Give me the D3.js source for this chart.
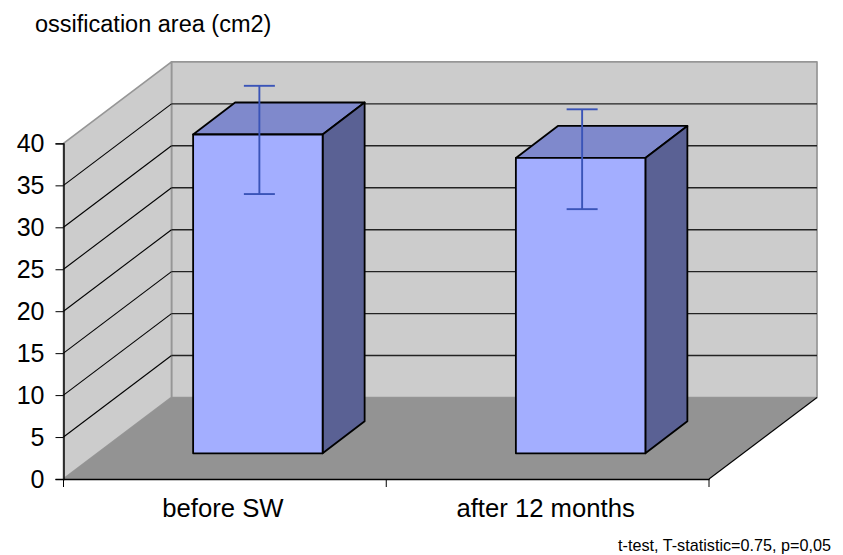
<!DOCTYPE html>
<html>
<head>
<meta charset="utf-8">
<script src="https://cdn.jsdelivr.net/npm/d3@7"></script>
<style>
  body { margin: 0; background: #fff; }
  text { font-family: "Liberation Sans", Arial, sans-serif; fill: #000; }
</style>
</head>
<body>
<div id="chart"></div>
<script>
// values
var categories = ["before SW", "after 12 months"];
var barValues = [38, 35.2];
var errHigh = [43.8, 41.0];
var errLow = [30.9, 29.1];
var yTicks = [0, 5, 10, 15, 20, 25, 30, 35, 40];

var width = 843;
var height = 555;

// the 3d box: how far the back wall is pushed from the front plane
var depthX = 108;
var depthY = 81.5;
// bar position inside that depth
var barDx = 33;
var barDy = 25.7;
var barSideX = 42;
var barSideY = 32;
var barWidth = 129.5;

var svg = d3.select("#chart").append("svg")
  .attr("width", width)
  .attr("height", height)
  .style("display", "block");

var xScale = d3.scaleBand()
  .domain(categories)
  .range([63.5, 709]);

var yScale = d3.scaleLinear()
  .domain([0, 40])
  .range([479, 143.4]);

var x0 = xScale.range()[0];
var x1 = xScale.range()[1];
var yBottom = yScale(0);
var yTop = yScale(40);

function poly(points, fill, stroke, strokeWidth) {
  svg.append("polygon")
    .attr("points", points.map(function(p) { return p.join(","); }).join(" "))
    .attr("fill", fill)
    .attr("stroke", stroke || "none")
    .attr("stroke-width", strokeWidth || 0)
    .attr("stroke-linejoin", "round");
}

// back wall
poly([[x0 + depthX, yTop - depthY], [x1 + depthX, yTop - depthY], [x1 + depthX, yBottom - depthY], [x0 + depthX, yBottom - depthY]],
  "#cccccc", "#969696", 1.7);
// side wall
poly([[x0, yTop], [x0 + depthX, yTop - depthY], [x0 + depthX, yBottom - depthY], [x0, yBottom]],
  "#cccccc", "#969696", 1.7);
// floor
poly([[x0, yBottom], [x0 + depthX, yBottom - depthY], [x1 + depthX, yBottom - depthY], [x1, yBottom]],
  "#939393");

// gridlines, skip 0 and the top which is the wall edge
yTicks.filter(function(d) { return d > 0 && d < 40; }).forEach(function(d) {
  svg.append("line")
    .attr("x1", x0).attr("y1", yScale(d))
    .attr("x2", x0 + depthX).attr("y2", yScale(d) - depthY)
    .attr("stroke", "#000").attr("stroke-width", 1.1);
  svg.append("line")
    .attr("x1", x0 + depthX).attr("y1", yScale(d) - depthY)
    .attr("x2", x1 + depthX).attr("y2", yScale(d) - depthY)
    .attr("stroke", "#222").attr("stroke-width", 1.4);
});

// floor edge on the right
svg.append("line")
  .attr("x1", x1).attr("y1", yBottom)
  .attr("x2", x1 + depthX).attr("y2", yBottom - depthY)
  .attr("stroke", "#000").attr("stroke-width", 1.1);

// bars
categories.forEach(function(c, i) {
  var left = xScale(c) + xScale.bandwidth() / 2 - barWidth / 2 + barDx;
  var right = left + barWidth;
  var base = yBottom - barDy;
  var top = yScale(barValues[i]) - barDy;

  poly([[left, top], [left + barSideX, top - barSideY], [right + barSideX, top - barSideY], [right, top]],
    "#7f89cc", "#000", 1.8);
  poly([[right, top], [right + barSideX, top - barSideY], [right + barSideX, base - barSideY], [right, base]],
    "#5a6194", "#000", 1.8);
  poly([[left, top], [right, top], [right, base], [left, base]],
    "#a3aeff", "#000", 1.8);

  // error bar
  var cx = (left + right) / 2 + 1.5;
  var hi = yScale(errHigh[i]) - barDy;
  var lo = yScale(errLow[i]) - barDy;
  var err = svg.append("g").attr("stroke", "#3a54b8").attr("stroke-width", 1.9);
  err.append("line").attr("x1", cx).attr("x2", cx).attr("y1", hi).attr("y2", lo);
  err.append("line").attr("x1", cx - 15.5).attr("x2", cx + 15.5).attr("y1", hi).attr("y2", hi);
  err.append("line").attr("x1", cx - 15.5).attr("x2", cx + 15.5).attr("y1", lo).attr("y2", lo);
});

// axes
var yAxis = d3.axisLeft(yScale).tickValues(yTicks).tickSize(8).tickPadding(11);
var gy = svg.append("g")
  .attr("transform", "translate(" + x0 + ",0)")
  .call(yAxis);
gy.select(".domain").attr("stroke", "#000").attr("stroke-width", 1.4);
gy.selectAll("text").style("font-size", "25px").style("font-family", "'Liberation Sans'");

var xAxis = d3.axisBottom(xScale).tickValues([]).tickSizeOuter(0);
svg.append("g")
  .attr("transform", "translate(0," + yBottom + ")")
  .call(xAxis)
  .select(".domain").attr("stroke", "#000").attr("stroke-width", 1.5);

// category ticks sit between the bars
[x0, (x0 + x1) / 2, x1].forEach(function(x) {
  svg.append("line")
    .attr("x1", x).attr("x2", x)
    .attr("y1", yBottom).attr("y2", yBottom + 8)
    .attr("stroke", "#000");
});

categories.forEach(function(c) {
  svg.append("text")
    .attr("x", xScale(c) + xScale.bandwidth() / 2 - 2)
    .attr("y", 517)
    .attr("text-anchor", "middle")
    .style("font-size", "25.7px")
    .text(c);
});

svg.append("text")
  .attr("x", 35).attr("y", 32)
  .style("font-size", "23.5px")
  .text("ossification area (cm2)");

svg.append("text")
  .attr("x", 831).attr("y", 551)
  .attr("text-anchor", "end")
  .style("font-size", "16.2px")
  .text("t-test, T-statistic=0.75, p=0,05");
</script>
</body>
</html>
